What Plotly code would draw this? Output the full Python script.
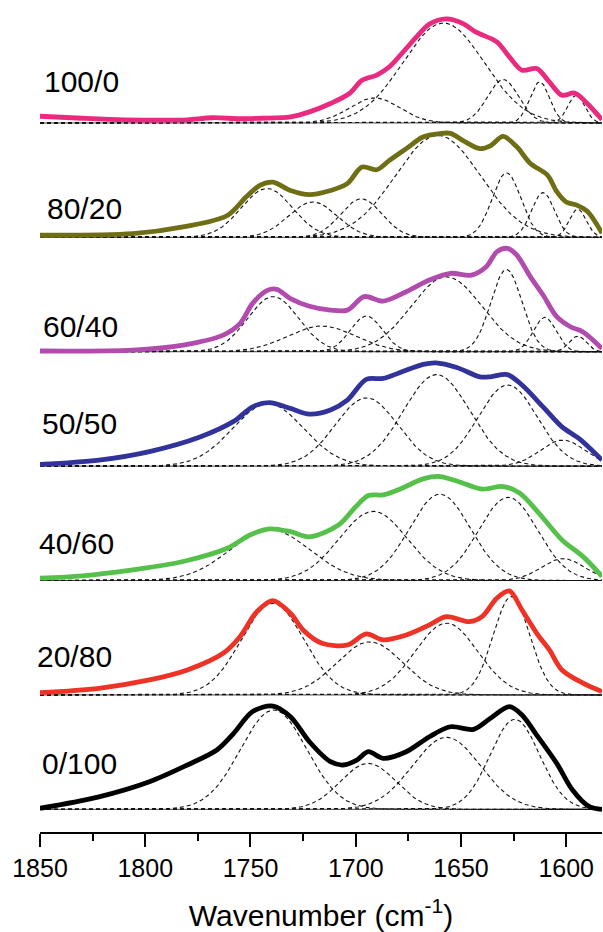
import numpy as np
import plotly.graph_objects as go

# Normalised FTIR absorbance (1850-1583 cm-1) for each blend ratio,
# with the Gaussian bands from the curve-fitting of each spectrum.

blends = ["100/0", "80/20", "60/40", "50/50", "40/60", "20/80", "0/100"]
line_colors = ["#EA2A7E", "#6E6F14", "#B14CAE", "#32329B", "#56C14A", "#EE3226", "#000000"]

wn_100_0 = [1850, 1830, 1810, 1790, 1780, 1768, 1755, 1745, 1731, 1722, 1712, 1703, 1697, 1690,
            1684, 1678, 1671, 1665, 1657, 1649, 1643, 1633, 1627, 1621, 1614, 1608, 1602, 1596,
            1590, 1583]
abs_100_0 = [0.064, 0.045, 0.030, 0.026, 0.030, 0.050, 0.040, 0.045, 0.058, 0.106, 0.187, 0.283,
             0.410, 0.460, 0.540, 0.670, 0.830, 0.950, 1.000, 0.955, 0.875, 0.780, 0.635, 0.507,
             0.523, 0.394, 0.266, 0.288, 0.187, 0.030]

wn_80_20 = [1850, 1806, 1782, 1761, 1752, 1745.5, 1739.4, 1731, 1722, 1712, 1704, 1697, 1690,
            1684, 1676, 1668, 1660, 1655, 1649, 1641, 1636, 1630, 1623.5, 1617, 1609, 1604.5,
            1600, 1595, 1590, 1583]
abs_80_20 = [0.020, 0.035, 0.100, 0.210, 0.390, 0.500, 0.530, 0.450, 0.410, 0.450, 0.516, 0.676,
             0.650, 0.740, 0.853, 0.964, 0.997, 1.000, 0.930, 0.853, 0.880, 0.970, 0.870, 0.710,
             0.600, 0.440, 0.340, 0.310, 0.250, 0.040]

wn_60_40 = [1850, 1806, 1782, 1763, 1755, 1749, 1742, 1737.5, 1731, 1722, 1712, 1704, 1696, 1687,
            1676, 1665, 1655, 1645, 1638, 1633, 1628, 1623.5, 1617, 1611, 1604.5, 1598, 1592, 1583]
abs_60_40 = [0.007, 0.016, 0.064, 0.160, 0.270, 0.465, 0.590, 0.600, 0.510, 0.437, 0.400, 0.400,
             0.530, 0.487, 0.577, 0.690, 0.754, 0.737, 0.817, 0.960, 0.994, 0.930, 0.720, 0.545,
             0.337, 0.240, 0.190, 0.030]

wn_50_50 = [1850, 1822, 1798, 1774, 1758, 1749, 1741, 1731, 1722, 1712, 1704, 1695, 1687, 1678,
            1668, 1662, 1652, 1641, 1636, 1628, 1621, 1611, 1602, 1594, 1583]
abs_50_50 = [0.016, 0.058, 0.140, 0.280, 0.430, 0.570, 0.610, 0.555, 0.500, 0.540, 0.635, 0.834,
             0.843, 0.907, 0.978, 0.993, 0.949, 0.859, 0.859, 0.880, 0.780, 0.570, 0.378, 0.266,
             0.058]

wn_40_60 = [1850, 1830, 1806, 1782, 1761, 1750, 1741, 1731, 1722, 1708, 1700, 1694, 1687, 1678,
            1668, 1660, 1651, 1640, 1630, 1622, 1613, 1602, 1592, 1583]
abs_40_60 = [0.023, 0.045, 0.103, 0.183, 0.310, 0.440, 0.497, 0.470, 0.420, 0.536, 0.710, 0.817,
             0.824, 0.888, 0.978, 1.000, 0.950, 0.879, 0.904, 0.840, 0.648, 0.390, 0.230, 0.040]

wn_20_80 = [1850, 1822, 1798, 1780, 1763, 1755, 1747, 1739.4, 1731, 1725, 1716, 1704, 1695, 1687,
            1676, 1665, 1657, 1646, 1640, 1633, 1627, 1621, 1614, 1608, 1602, 1592, 1583]
abs_20_80 = [0.022, 0.064, 0.144, 0.240, 0.400, 0.560, 0.800, 0.907, 0.785, 0.625, 0.497, 0.480,
             0.587, 0.530, 0.577, 0.673, 0.753, 0.705, 0.753, 0.930, 1.000, 0.817, 0.593, 0.433,
             0.240, 0.113, 0.032]

wn_0_100 = [1850, 1822, 1798, 1780, 1766, 1758, 1749, 1739.4, 1731, 1722, 1712, 1706, 1699.5,
            1694, 1687, 1676, 1665, 1655, 1644, 1636, 1627, 1621, 1614, 1604.5, 1597, 1589, 1583]
abs_0_100 = [0.010, 0.120, 0.265, 0.426, 0.570, 0.730, 0.940, 0.993, 0.890, 0.650, 0.458, 0.426,
             0.474, 0.554, 0.490, 0.554, 0.698, 0.794, 0.769, 0.875, 0.987, 0.907, 0.714, 0.442,
             0.186, 0.025, 0.000]

# Fitted bands: centre (cm-1), height (normalised), FWHM (cm-1)
band_center_100_0 = [1691, 1658.3, 1630, 1612.6, 1595.2]
band_height_100_0 = [0.24, 0.96, 0.417, 0.394, 0.266]
band_fwhm_100_0 = [28, 45.4, 17.4, 11, 9.5]

band_center_80_20 = [1742.2, 1720.4, 1697.3, 1661, 1628.4, 1611, 1594.5]
band_height_80_20 = [0.47, 0.34, 0.37, 0.98, 0.62, 0.43, 0.27]
band_fwhm_80_20 = [28.5, 27, 23, 47.5, 16, 12.7, 9.5]

band_center_60_40 = [1739.2, 1716.2, 1694.9, 1656.9, 1628.4, 1610.2, 1594.5]
band_height_60_40 = [0.53, 0.247, 0.343, 0.72, 0.79, 0.33, 0.15]
band_fwhm_60_40 = [28.5, 38, 18, 39.6, 17.4, 12.7, 9.5]

band_center_50_50 = [1741.6, 1694.9, 1661.6, 1627.8, 1601.7]
band_height_50_50 = [0.60, 0.657, 0.88, 0.78, 0.25]
band_fwhm_50_50 = [39.6, 34.8, 37, 33, 25]

band_center_40_60 = [1740.8, 1691.7, 1660, 1627.6, 1601.5]
band_height_40_60 = [0.49, 0.665, 0.83, 0.80, 0.21]
band_fwhm_40_60 = [44.4, 38, 34, 33, 24]

band_center_20_80 = [1739.5, 1693.3, 1656.9, 1626]
band_height_20_80 = [0.88, 0.51, 0.69, 0.945]
band_fwhm_20_80 = [35, 37, 35, 20.6]

band_center_0_100 = [1739, 1694.1, 1656.9, 1624.4]
band_height_0_100 = [0.955, 0.442, 0.692, 0.865]
band_fwhm_0_100 = [37, 31, 38, 27.7]

tick_values = [1850, 1800, 1750, 1700, 1650, 1600]

spectra = [
    (wn_100_0, abs_100_0, band_center_100_0, band_height_100_0, band_fwhm_100_0),
    (wn_80_20, abs_80_20, band_center_80_20, band_height_80_20, band_fwhm_80_20),
    (wn_60_40, abs_60_40, band_center_60_40, band_height_60_40, band_fwhm_60_40),
    (wn_50_50, abs_50_50, band_center_50_50, band_height_50_50, band_fwhm_50_50),
    (wn_40_60, abs_40_60, band_center_40_60, band_height_40_60, band_fwhm_40_60),
    (wn_20_80, abs_20_80, band_center_20_80, band_height_20_80, band_fwhm_20_80),
    (wn_0_100, abs_0_100, band_center_0_100, band_height_0_100, band_fwhm_0_100),
]

# vertical stacking: bottom spectrum at 0, each one above shifted by STEP
STEP = 1.1
n = len(blends)
offsets = [STEP * (n - 1 - i) for i in range(n)]

# label placement (left edge in px from figure left, height above baseline)
label_px = [42, 45, 41, 40, 37, 35, 40]
label_dy = [0.40, 0.28, 0.24, 0.41, 0.36, 0.37, 0.44]

X_MIN, X_MAX = 1583, 1850
grid = np.linspace(X_MAX, X_MIN, 700)

FONT = "Liberation Sans, Arial, sans-serif"
fig = go.Figure()

for (wn, ab, cen, hgt, fw), off, col in zip(spectra, offsets, line_colors):
    # baseline
    fig.add_trace(go.Scatter(x=[X_MAX, X_MIN], y=[off, off], mode="lines",
                             line=dict(color="#444444", width=1), hoverinfo="skip",
                             showlegend=False))
    # fitted Gaussian bands
    for c, h, w in zip(cen, hgt, fw):
        band = h * np.exp(-4 * np.log(2) * ((grid - c) / w) ** 2)
        fig.add_trace(go.Scatter(x=grid, y=band + off, mode="lines",
                                 line=dict(color="#111111", width=1.1, dash="4px,3px"),
                                 hoverinfo="skip", showlegend=False))
    # measured spectrum
    fig.add_trace(go.Scatter(x=wn, y=np.array(ab) + off, mode="lines",
                             line=dict(color=col, width=4.8, shape="spline", smoothing=0.9),
                             showlegend=False))

PLOT_L, PLOT_W = 40, 562
for name, off, px, dy in zip(blends, offsets, label_px, label_dy):
    fig.add_annotation(x=(px - PLOT_L) / PLOT_W, xref="paper", y=off + dy, yref="y",
                       text=name, showarrow=False, xanchor="left", yanchor="middle",
                       font=dict(family=FONT, size=30, color="black"))

fig.update_xaxes(
    range=[X_MAX, X_MIN], tickvals=tick_values, ticktext=[str(t) for t in tick_values],
    showline=True, linecolor="black", linewidth=2, mirror=False,
    ticks="outside", ticklen=13, tickwidth=2, tickcolor="black",
    minor=dict(dtick=25, ticks="outside", ticklen=7, tickwidth=2, tickcolor="black"),
    tickfont=dict(family=FONT, size=25, color="black"),
    showgrid=False, zeroline=False,
    title=dict(text="Wavenumber (cm<sup>-1</sup>)", font=dict(family=FONT, size=30, color="black"),
               standoff=26),
)
fig.update_yaxes(range=[-0.218, 7.782], visible=False, showgrid=False, zeroline=False)

fig.update_layout(
    width=603, height=932,
    margin=dict(l=PLOT_L, r=1, t=0, b=100),
    plot_bgcolor="white", paper_bgcolor="white",
    showlegend=False,
)

fig.write_html("out.html")
